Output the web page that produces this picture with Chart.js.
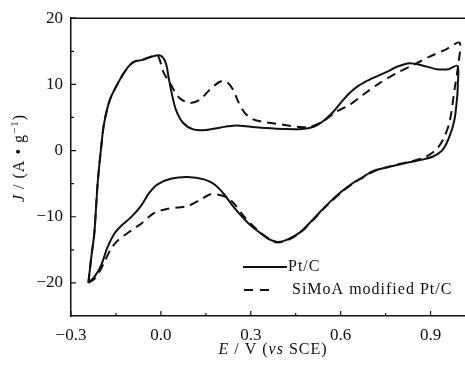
<!DOCTYPE html>
<html>
<head>
<meta charset="utf-8">
<script src="https://cdn.jsdelivr.net/npm/chart.js@4/dist/chart.umd.min.js"></script>
<style>
	html, body { margin: 0; padding: 0; background: #fff; }
	#wrap { width: 465px; height: 366px; }
</style>
</head>
<body>
<div id="wrap"><canvas id="cvChart"></canvas></div>
<script>
// tick values
const xTicks = [-0.3, 0, 0.3, 0.6, 0.9];
const xMinorTicks = [-0.15, 0.15, 0.45, 0.75];
const yTicks = [-20, -10, 0, 10, 20];
const yMinorTicks = [-15, -5, 5, 15];

// Pt/C loop (E in V, J in A/g)
const ptcE = [-0.242, -0.232, -0.222, -0.211, -0.2, -0.19, -0.17, -0.137, -0.11, -0.09, -0.06, -0.03, -0.005, 0.008, 0.018, 0.026, 0.036, 0.05, 0.074, 0.108, 0.15, 0.2, 0.25, 0.3, 0.35, 0.41, 0.47, 0.51, 0.54, 0.57, 0.6, 0.63, 0.66, 0.7, 0.75, 0.79, 0.83, 0.87, 0.92, 0.96, 0.99,
	0.991, 0.989, 0.98, 0.963, 0.941, 0.908, 0.874, 0.82, 0.763, 0.708, 0.674, 0.641, 0.6, 0.55, 0.508, 0.463, 0.42, 0.39, 0.36, 0.33, 0.29, 0.244, 0.211, 0.178, 0.144, 0.09, 0.033, -0.011, -0.039, -0.067, -0.1, -0.133, -0.156, -0.178, -0.2, -0.222, -0.242];
const ptcJ = [-20, -16, -12.4, -4.9, 0.2, 4, 7.7, 10.7, 12.6, 13.4, 13.7, 14.2, 14.4, 14, 13, 11, 8.7, 6.2, 4.2, 3.2, 3.1, 3.5, 3.8, 3.6, 3.4, 3.25, 3.25, 3.6, 4.4, 5.6, 7.2, 8.7, 9.8, 10.8, 11.8, 12.7, 13.2, 12.9, 12.3, 12.3, 12.8,
	10, 8.2, 4.7, 2.1, 0.15, -0.9, -1.35, -1.85, -2.45, -3.1, -4.0, -4.9, -6.3, -8.4, -10.4, -12.4, -13.5, -13.8, -13.4, -12.4, -10.9, -8.6, -6.6, -5.1, -4.36, -4.0, -4.26, -5.1, -6.4, -8.4, -10.1, -11.4, -12.6, -14.6, -17.4, -19.1, -20];

// SiMoA modified Pt/C loop
const simoaE = [-0.242, -0.232, -0.222, -0.211, -0.2, -0.19, -0.17, -0.137, -0.11, -0.09, -0.06, -0.03, -0.01, 0.008, 0.03, 0.063, 0.097, 0.13, 0.163, 0.197, 0.219, 0.241, 0.258, 0.28, 0.308, 0.352, 0.408, 0.463, 0.497, 0.541, 0.586, 0.63, 0.674, 0.73, 0.786, 0.841, 0.897, 0.952, 0.997,
	0.993, 0.98, 0.963, 0.941, 0.92, 0.897, 0.87, 0.82, 0.763, 0.708, 0.674, 0.641, 0.6, 0.55, 0.508, 0.463, 0.42, 0.39, 0.367, 0.322, 0.278, 0.244, 0.211, 0.167, 0.133, 0.089, 0.056, 0.022, -0.022, -0.067, -0.1, -0.144, -0.167, -0.189, -0.206, -0.222, -0.242];
const simoaJ = [-20, -16, -12.4, -4.9, 0.2, 4, 7.7, 10.7, 12.6, 13.4, 13.8, 14.2, 14.3, 11.9, 10.2, 7.9, 7.2, 7.7, 9.2, 10.4, 10.4, 9.2, 7.4, 5.7, 4.7, 4.26, 3.9, 3.56, 3.56, 4.4, 5.9, 6.9, 8.4, 10.2, 11.7, 12.9, 14.2, 15.3, 16.3,
	13.2, 9.2, 4.2, 1.6, 0.2, -0.6, -1.2, -1.8, -2.4, -3.2, -4.1, -5.0, -6.4, -8.5, -10.5, -12.5, -13.6, -13.9, -13.5, -12.0, -10.0, -8.0, -6.9, -6.6, -7.4, -8.4, -8.6, -8.8, -9.4, -11.1, -12.1, -13.6, -14.9, -16.9, -18.4, -19.4, -20];

const seriesNames = ['Pt/C', 'SiMoA modified Pt/C'];

const FONT = '"Liberation Serif", "Times New Roman", serif';
const INK = '#111';

function toPoints(xs, ys) {
	return xs.map((x, i) => ({ x: x, y: ys[i] }));
}

function fmtMinus(s) {
	return String(s).replace('-', '\u2212');
}

// draws runs of text with mixed styles, left to right from (x, y)
function drawRuns(ctx, runs, x, y) {
	runs.forEach(r => {
		ctx.font = r.font;
		ctx.fillText(r.text, x, y + (r.dy || 0));
		x += ctx.measureText(r.text).width;
	});
}

function runsWidth(ctx, runs) {
	let w = 0;
	runs.forEach(r => { ctx.font = r.font; w += ctx.measureText(r.text).width; });
	return w;
}

const decorPlugin = {
	id: 'decor',
	afterDraw(chart) {
		const ctx = chart.ctx;
		const area = chart.chartArea;
		const xs = chart.scales.x;
		const ys = chart.scales.y;
		ctx.save();
		ctx.strokeStyle = INK;
		ctx.fillStyle = INK;

		// top frame line
		ctx.lineWidth = 1.5;
		ctx.beginPath();
		ctx.moveTo(area.left, area.top);
		ctx.lineTo(area.right, area.top);
		ctx.stroke();

		// inward ticks
		ctx.lineWidth = 1.2;
		ctx.beginPath();
		xTicks.forEach(v => { const p = xs.getPixelForValue(v); ctx.moveTo(p, area.bottom); ctx.lineTo(p, area.bottom - 5); });
		xMinorTicks.forEach(v => { const p = xs.getPixelForValue(v); ctx.moveTo(p, area.bottom); ctx.lineTo(p, area.bottom - 3); });
		yTicks.forEach(v => { const p = ys.getPixelForValue(v); ctx.moveTo(area.left, p); ctx.lineTo(area.left + 5, p); });
		yMinorTicks.forEach(v => { const p = ys.getPixelForValue(v); ctx.moveTo(area.left, p); ctx.lineTo(area.left + 3, p); });
		ctx.stroke();

		ctx.letterSpacing = '1px';
		ctx.textBaseline = 'middle';
		ctx.textAlign = 'left';

		// x axis title
		const reg = '16px ' + FONT;
		const ita = 'italic 16px ' + FONT;
		const xRuns = [
			{ text: 'E', font: ita },
			{ text: ' / V (', font: reg },
			{ text: 'vs', font: ita },
			{ text: ' SCE)', font: reg }
		];
		const xw = runsWidth(ctx, xRuns);
		drawRuns(ctx, xRuns, 273 - xw / 2, 350);

		// y axis title, rotated
		const yRuns = [
			{ text: 'J', font: ita },
			{ text: ' / (A \u2022 g', font: reg },
			{ text: '\u22121', font: '11px ' + FONT, dy: -5 },
			{ text: ')', font: reg }
		];
		const yw = runsWidth(ctx, yRuns);
		ctx.save();
		ctx.translate(20, 158);
		ctx.rotate(-Math.PI / 2);
		drawRuns(ctx, yRuns, -yw / 2, 0);
		ctx.restore();

		// legend
		ctx.lineWidth = 2;
		ctx.beginPath();
		ctx.moveTo(243, 267);
		ctx.lineTo(287, 267);
		ctx.stroke();
		ctx.setLineDash([9, 7]);
		ctx.beginPath();
		ctx.moveTo(244, 290);
		ctx.lineTo(276, 290);
		ctx.stroke();
		ctx.setLineDash([]);
		ctx.font = reg;
		ctx.fillText(seriesNames[0], 288, 267);
		ctx.fillText(seriesNames[1], 292, 290);
		ctx.restore();
	}
};

const ctx = document.getElementById('cvChart').getContext('2d');
new Chart(ctx, {
	type: 'scatter',
	data: {
		datasets: [{
			label: seriesNames[0],
			data: toPoints(ptcE, ptcJ),
			showLine: true,
			borderColor: INK,
			borderWidth: 2,
			pointRadius: 0,
			tension: 0.3,
			fill: false
		}, {
			label: seriesNames[1],
			data: toPoints(simoaE, simoaJ),
			showLine: true,
			borderColor: INK,
			borderWidth: 2,
			borderDash: [9, 6],
			pointRadius: 0,
			tension: 0.3,
			fill: false
		}]
	},
	options: {
		responsive: true,
		maintainAspectRatio: false,
		animation: false,
		layout: { padding: { top: 18, right: 0, left: 0, bottom: 0 } },
		scales: {
			x: {
				type: 'linear',
				min: -0.3,
				max: 1.015,
				afterBuildTicks: s => { s.ticks = xTicks.map(v => ({ value: v })); },
				afterFit: s => { s.height = 50; },
				grid: { display: false, drawTicks: false },
				border: { display: true, color: INK, width: 1.5 },
				ticks: {
					padding: 9,
					color: INK,
					maxRotation: 0,
					font: { family: FONT, size: 17 },
					callback: v => fmtMinus(v.toFixed(1))
				}
			},
			y: {
				type: 'linear',
				min: -25,
				max: 20,
				afterBuildTicks: s => { s.ticks = yTicks.map(v => ({ value: v })); },
				afterFit: s => { s.width = 71; },
				grid: { display: false, drawTicks: false },
				border: { display: true, color: INK, width: 1.5 },
				ticks: {
					padding: 8,
					color: INK,
					font: { family: FONT, size: 17 },
					callback: v => fmtMinus(v)
				}
			}
		},
		plugins: {
			legend: { display: false },
			tooltip: { enabled: false }
		}
	},
	plugins: [decorPlugin]
});
</script>
</body>
</html>
